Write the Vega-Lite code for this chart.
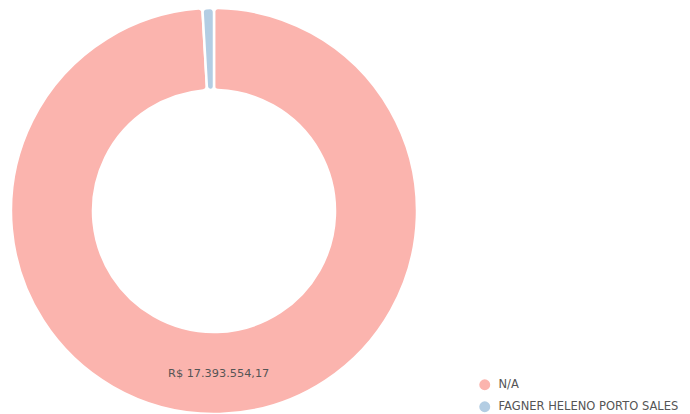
{
  "$schema": "https://vega.github.io/schema/vega-lite/v6.json",
  "width": 428,
  "height": 422,
  "padding": 0,
  "background": "white",
  "config": {"view": {"stroke": null}, "font": "DejaVu Sans"},
  "data": {"values": [
    {"name": "N/A", "value": 17393554.17, "label": "R$ 17.393.554,17"},
    {"name": "FAGNER HELENO PORTO SALES", "value": 160000, "label": ""}
  ]},
  "encoding": {
    "theta": {"field": "value", "type": "quantitative", "stack": true},
    "order": {"field": "value", "type": "quantitative", "sort": "descending"}
  },
  "layer": [
    {
      "mark": {"type": "arc", "outerRadius": 203, "innerRadius": 121, "stroke": "white", "strokeWidth": 2.5, "cornerRadius": 4},
      "encoding": {
        "color": {
          "field": "name", "type": "nominal",
          "sort": ["N/A", "FAGNER HELENO PORTO SALES"],
          "scale": {"domain": ["N/A", "FAGNER HELENO PORTO SALES"], "range": ["#fbb4ae", "#b3cde3"]},
          "legend": {
            "title": null, "orient": "none", "legendX": 479, "legendY": 379,
            "symbolType": "circle", "symbolSize": 120, "symbolStrokeWidth": 0,
            "labelFontSize": 11.5, "labelColor": "#555555", "labelFont": "DejaVu Sans", "labelLimit": 300,
            "rowPadding": 9, "padding": 0, "labelOffset": 8
          }
        }
      }
    },
    {
      "mark": {"type": "text", "radius": 163, "fontSize": 11.3, "color": "#555555", "font": "DejaVu Sans"},
      "encoding": {"text": {"field": "label", "type": "nominal"}}
    }
  ]
}
